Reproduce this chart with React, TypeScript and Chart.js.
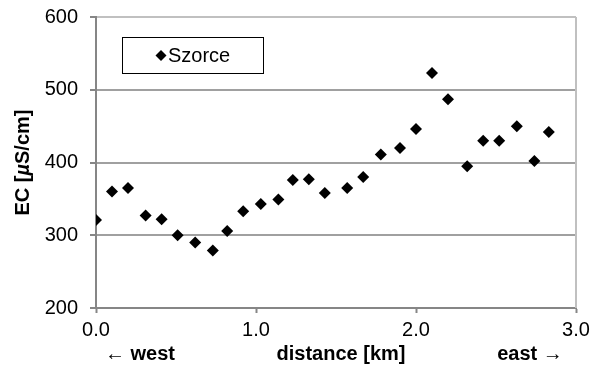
import React, { useEffect, useRef } from 'react';
import { Chart, registerables } from 'chart.js';

Chart.register(...registerables);

const distanceKm = [0, 0.1, 0.2, 0.31, 0.41, 0.51, 0.62, 0.73, 0.82, 0.92, 1.03, 1.14, 1.23, 1.33, 1.43, 1.57, 1.67, 1.78, 1.9, 2.0, 2.1, 2.2, 2.32, 2.42, 2.52, 2.63, 2.74, 2.83];
const ecSzorce = [321, 360, 365, 327, 322, 300, 290, 279, 306, 333, 343, 349, 376, 377, 358, 365, 380, 411, 420, 446, 523, 487, 395, 430, 430, 450, 402, 442];
const seriesName = 'Szorce';
const xTickValues = [0, 1, 2, 3];
const yTickValues = [200, 300, 400, 500, 600];
const xTitle = 'distance [km]';
const westLabel = '\u2190 west';
const eastLabel = 'east \u2192';

const FAMILY = 'Arial, "Liberation Sans", sans-serif';

const decorPlugin = {
  id: 'decor',
  afterDraw(chart: any) {
    const { ctx, chartArea } = chart;
    const { left, right, top, bottom } = chartArea;
    ctx.save();
    // right frame line
    ctx.strokeStyle = '#c0c0c0';
    ctx.lineWidth = 2;
    ctx.beginPath();
    ctx.moveTo(right, top);
    ctx.lineTo(right, bottom);
    ctx.stroke();

    // legend box
    const bx = left + 26.5, by = top + 20.5, bw = 141, bh = 36;
    ctx.fillStyle = '#fff';
    ctx.fillRect(bx, by, bw, bh);
    ctx.strokeStyle = '#000';
    ctx.lineWidth = 1;
    ctx.strokeRect(bx, by, bw, bh);
    const mx = bx + 38.5, my = by + 18;
    const r = 5.5;
    ctx.fillStyle = '#000';
    ctx.beginPath();
    ctx.moveTo(mx - r, my);
    ctx.lineTo(mx, my - r);
    ctx.lineTo(mx + r, my);
    ctx.lineTo(mx, my + r);
    ctx.closePath();
    ctx.fill();
    ctx.font = `20px ${FAMILY}`;
    ctx.textAlign = 'left';
    ctx.textBaseline = 'middle';
    ctx.fillText(seriesName, mx + 7, my + 1);

    // bottom labels
    ctx.font = `bold 20px ${FAMILY}`;
    ctx.textAlign = 'center';
    ctx.textBaseline = 'alphabetic';
    const ty = bottom + 52;
    ctx.fillText(xTitle, left + 245, ty);
    ctx.fillText(westLabel, left + 44, ty);
    ctx.fillText(eastLabel, left + 434, ty);

    // y title with italic mu
    const cy = (top + bottom) / 2;
    ctx.translate(29, cy);
    ctx.rotate(-Math.PI / 2);
    ctx.textAlign = 'left';
    ctx.textBaseline = 'alphabetic';
    const parts: [string, string][] = [
      ['EC [', `bold 20px ${FAMILY}`],
      ['\u00b5', `italic bold 20px ${FAMILY}`],
      ['S/cm]', `bold 20px ${FAMILY}`],
    ];
    let total = 0;
    for (const [t, f] of parts) { ctx.font = f; total += ctx.measureText(t).width; }
    let x = -total / 2;
    for (const [t, f] of parts) {
      ctx.font = f;
      ctx.fillText(t, x, 0);
      x += ctx.measureText(t).width;
    }
    ctx.restore();
  },
};

export default function App() {
  const canvasRef = useRef<HTMLCanvasElement | null>(null);

  useEffect(() => {
    document.body.style.margin = '0';
    const canvas = canvasRef.current;
    if (!canvas) return;
    const chart = new Chart(canvas, {
      type: 'scatter',
      data: {
        datasets: [
          {
            label: seriesName,
            data: distanceKm.map((d, i) => ({ x: d, y: ecSzorce[i] })),
            pointStyle: 'rectRot',
            pointRadius: 6,
            pointHoverRadius: 6,
            backgroundColor: '#000',
            borderColor: '#000',
            borderWidth: 0,
            showLine: false,
          },
        ],
      },
      options: {
        animation: false,
        responsive: true,
        maintainAspectRatio: false,
        layout: { padding: { left: 0, right: 25, top: 17, bottom: 0 } },
        plugins: {
          legend: { display: false },
          tooltip: { enabled: false },
        },
        events: [],
        scales: {
          x: {
            type: 'linear',
            min: 0,
            max: 3,
            afterBuildTicks: (scale: any) => {
              scale.ticks = xTickValues.map((v) => ({ value: v }));
            },
            afterFit: (scale: any) => {
              scale.height = 66;
              scale.paddingLeft = 0;
              scale.paddingRight = 0;
            },
            ticks: {
              autoSkip: false,
              maxRotation: 0,
              padding: 5,
              color: '#000',
              font: { family: FAMILY, size: 20 },
              callback: (v: any) => Number(v).toFixed(1),
            },
            grid: {
              drawOnChartArea: false,
              drawTicks: true,
              tickLength: 5,
              tickColor: '#868686',
              tickWidth: 2,
            },
            border: { color: '#868686', width: 2 },
          },
          y: {
            type: 'linear',
            min: 200,
            max: 600,
            afterBuildTicks: (scale: any) => {
              scale.ticks = yTickValues.map((v) => ({ value: v }));
            },
            afterFit: (scale: any) => {
              scale.width = 96;
              scale.paddingTop = 0;
              scale.paddingBottom = 0;
            },
            ticks: {
              padding: 12,
              color: '#000',
              font: { family: FAMILY, size: 20 },
              callback: (v: any) => String(v),
            },
            grid: {
              color: (c: any) => (c.tick && c.tick.value === 600 ? '#c0c0c0' : '#a0a0a0'),
              lineWidth: 2,
              tickLength: 6,
              tickColor: '#868686',
              tickWidth: 2,
            },
            border: { color: '#868686', width: 2 },
          },
        },
      },
      plugins: [decorPlugin],
    });
    return () => chart.destroy();
  }, []);

  return (
    <div style={{ position: 'relative', width: 601, height: 374 }}>
      <canvas ref={canvasRef} />
    </div>
  );
}
